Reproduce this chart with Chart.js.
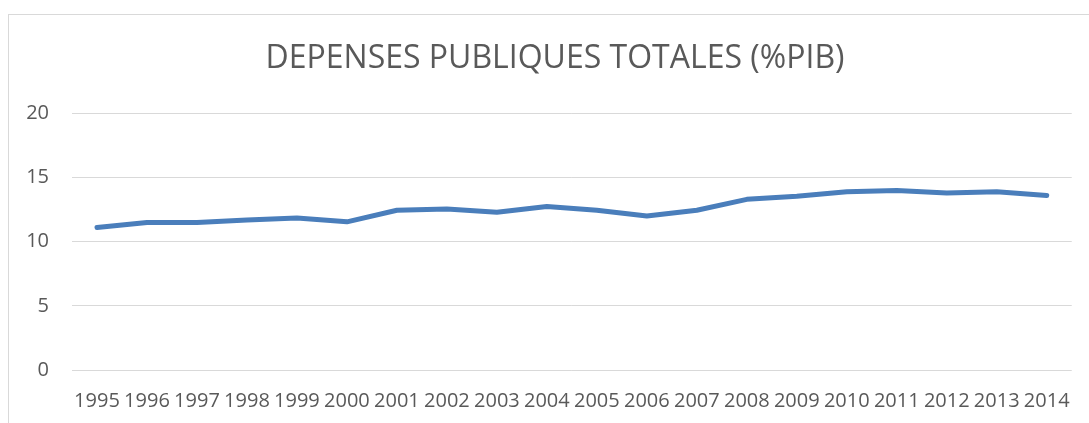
<!DOCTYPE html>
<html>
<head>
<meta charset="utf-8">
<script src="https://cdn.jsdelivr.net/npm/chart.js@4/dist/chart.umd.min.js"></script>
<style>
  body { margin: 0; background: #fff; overflow: hidden; }
  #box {
    position: absolute; left: 8px; top: 14px;
    width: 1081px; height: 409px;
    border-left: 1px solid #d9d9d9; border-top: 1px solid #d9d9d9;
  }
  canvas { display: block; }
</style>
</head>
<body>
<div id="box"><canvas id="chart" width="1080" height="408"></canvas></div>
<script>
const years = ["1995","1996","1997","1998","1999","2000","2001","2002","2003","2004",
               "2005","2006","2007","2008","2009","2010","2011","2012","2013","2014"];
const depenses = [11.1, 11.5, 11.5, 11.7, 11.85, 11.55, 12.45, 12.55, 12.3, 12.75,
                  12.45, 12.0, 12.45, 13.3, 13.55, 13.9, 14.0, 13.8, 13.9, 13.6];
const yTicks = [0, 5, 10, 15, 20];

const textColor = "#595959";
const fontFamily = "'Open Sans', 'Noto Sans', sans-serif";

new Chart(document.getElementById("chart"), {
  type: "line",
  data: {
    labels: years,
    datasets: [{
      label: "Dépenses publiques totales",
      data: depenses,
      borderColor: "#4a7ebb",
      backgroundColor: "#4a7ebb",
      borderWidth: 5,
      borderCapStyle: "round",
      borderJoinStyle: "round",
      pointRadius: 0,
      tension: 0,
      fill: false
    }]
  },
  options: {
    responsive: false,
    animation: false,
    layout: { padding: { left: 12, right: 0, top: 0, bottom: 10 } },
    plugins: {
      legend: { display: false },
      tooltip: { enabled: false },
      title: {
        display: true,
        text: "DEPENSES PUBLIQUES TOTALES (%PIB)",
        color: textColor,
        font: { family: fontFamily, size: 32, weight: "normal" },
        padding: { top: 25, bottom: 35 }
      }
    },
    scales: {
      x: {
        offset: true,
        afterFit: (scale) => { scale.height = 43; },
        grid: { display: false, drawTicks: false },
        border: { display: false },
        ticks: {
          color: textColor,
          font: { family: fontFamily, size: 20 },
          padding: 19,
          autoSkip: false,
          maxRotation: 0
        }
      },
      y: {
        min: yTicks[0],
        max: yTicks[yTicks.length - 1],
        afterBuildTicks: (scale) => { scale.ticks = yTicks.map(v => ({ value: v })); },
        afterFit: (scale) => { scale.width = 51; },
        grid: { color: "#d9d9d9", lineWidth: 1, drawTicks: false },
        border: { display: false },
        ticks: {
          color: textColor,
          font: { family: fontFamily, size: 20 },
          padding: 23
        }
      },
      // empty right margin so the title stays centred on the whole frame
      yRight: {
        position: "right",
        afterFit: (scale) => { scale.width = 16; },
        grid: { display: false, drawTicks: false },
        border: { display: false },
        ticks: { display: false }
      }
    }
  }
});
</script>
</body>
</html>
